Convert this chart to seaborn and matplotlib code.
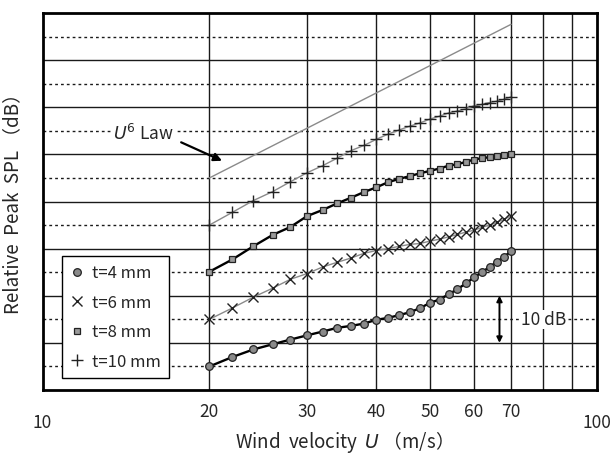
import matplotlib
matplotlib.use("Agg")
import matplotlib.pyplot as plt
from matplotlib.lines import Line2D
import seaborn as sns

# Wind velocity (m/s) at which the peak SPL was measured
velocity = [20, 22, 24, 26, 28, 30, 32, 34, 36, 38, 40, 42, 44, 46, 48,
            50, 52, 54, 56, 58, 60, 62, 64, 66, 68, 70]

# Relative peak SPL (dB) for each plate thickness
spl_t4 = [5.0, 7.0, 8.6, 9.7, 10.7, 11.6, 12.4, 13.2, 13.6, 14.1, 14.9, 15.3, 15.9,
          16.5, 17.4, 18.5, 19.2, 20.3, 21.4, 22.6, 23.9, 25.0, 26.1, 27.2, 28.3, 29.4]
spl_t6 = [15.0, 17.4, 19.7, 21.6, 23.5, 24.7, 26.1, 27.1, 28.0, 29.0, 29.6, 30.0, 30.5,
          30.9, 31.1, 31.6, 32.0, 32.5, 33.0, 33.5, 33.9, 34.5, 35.0, 35.6, 36.2, 37.0]
spl_t8 = [25.1, 27.7, 30.5, 32.9, 34.6, 36.9, 38.2, 39.6, 40.8, 42.0, 43.0, 44.1, 44.8,
          45.4, 46.0, 46.5, 47.0, 47.6, 47.9, 48.4, 48.9, 49.2, 49.4, 49.7, 49.9, 50.0]
spl_t10 = [35.0, 37.7, 40.2, 42.1, 44.2, 46.1, 47.6, 49.2, 50.8, 51.9, 53.2, 54.3, 55.2,
           56.0, 56.7, 57.5, 58.1, 58.8, 59.2, 59.7, 60.3, 60.6, 61.0, 61.3, 61.7, 62.2]

# U^6 reference line (end points)
u6_velocity = [20, 70]
u6_spl = [45.0, 77.6]

series_labels = ["t=4 mm", "t=6 mm", "t=8 mm", "t=10 mm"]
major_ticks = [20, 30, 40, 50, 60, 70]
major_labels = ["20", "30", "40", "50", "60", "70"]
edge_ticks = [10, 100]
edge_labels = ["10", "100"]

sns.set_theme(style="white")
plt.rcParams["font.family"] = ["Noto Sans CJK JP", "DejaVu Sans"]
plt.rcParams["mathtext.fontset"] = "dejavusans"

fig = plt.figure(figsize=(6.11, 4.56), dpi=100)
ax = fig.add_axes([42.5 / 611, 1 - 391 / 456, 554.5 / 611, 377 / 456])

ax.set_xscale("log")
ax.set_xlim(10, 100)
ax.set_ylim(0, 80)

# grid: solid every 10 dB, dotted at the half steps, verticals every 10 m/s
ax.set_yticks(range(10, 80, 10))
ax.set_yticks(range(5, 80, 10), minor=True)
ax.set_yticklabels([])
ax.yaxis.grid(True, which="major", color="#1a1a1a", lw=1.0, ls="-")
ax.yaxis.grid(True, which="minor", color="#1a1a1a", lw=1.0, ls=(0, (2, 2.2)))

ax.set_xticks(major_ticks, labels=major_labels)
ax.set_xticks(edge_ticks, labels=edge_labels, minor=True)
ax.xaxis.grid(True, which="major", color="#1a1a1a", lw=1.0, ls="-")
for xv in [80, 90]:
    ax.axvline(xv, color="#1a1a1a", lw=1.0, zorder=0.5)
ax.tick_params(axis="both", which="both", length=0)
ax.tick_params(axis="x", which="major", pad=9, labelsize=12.5)
ax.tick_params(axis="x", which="minor", pad=16.5, labelsize=12.5)
ax.set_axisbelow(True)

for sp in ax.spines.values():
    sp.set_color("black")
    sp.set_linewidth(2.0)

# measured curves
sns.lineplot(x=velocity, y=spl_t4, ax=ax, color="black", lw=1.7, marker="o",
             markersize=5.5, markerfacecolor="#8a8a8a", markeredgecolor="#222222",
             markeredgewidth=0.9, zorder=5)
sns.lineplot(x=velocity, y=spl_t6, ax=ax, color="#8a8a8a", lw=1.0, marker="x",
             markersize=7, markeredgecolor="#222222", markeredgewidth=1.0, zorder=5)
sns.lineplot(x=velocity, y=spl_t8, ax=ax, color="black", lw=1.7, marker="s",
             markersize=5, markerfacecolor="#9a9a9a", markeredgecolor="#222222",
             markeredgewidth=0.9, zorder=5)
sns.lineplot(x=velocity, y=spl_t10, ax=ax, color="#8a8a8a", lw=1.0, marker="+",
             markersize=9, markeredgecolor="#222222", markeredgewidth=1.0, zorder=5)
sns.lineplot(x=u6_velocity, y=u6_spl, ax=ax, color="#8a8a8a", lw=1.0, zorder=5)

# U^6 law label with arrow
ax.text(15.2, 54.6, "$U^6$ Law", ha="center", va="center", fontsize=12.5,
        bbox=dict(facecolor="white", edgecolor="none", pad=1.5), zorder=6)
ax.annotate("", xy=(21.3, 48.4), xytext=(17.6, 52.8),
            arrowprops=dict(arrowstyle="-|>", color="black", lw=1.6,
                            mutation_scale=12), zorder=6)

# 10 dB scale bar
ax.annotate("", xy=(66.7, 10), xytext=(66.7, 20),
            arrowprops=dict(arrowstyle="<|-|>", color="black", lw=1.4,
                            mutation_scale=8, shrinkA=0, shrinkB=0), zorder=6)
ax.text(80, 15, "10 dB", ha="center", va="center", fontsize=12.5,
        bbox=dict(facecolor="white", edgecolor="none", pad=0.5), zorder=6)

ax.set_xlabel("Wind  velocity  $U$ （m/s）", fontsize=13.5, va="center")
ax.xaxis.set_label_coords(0.535, -0.135)
ax.set_ylabel("Relative  Peak  SPL （dB）", fontsize=13.5)
ax.yaxis.set_label_coords(-0.035, 0.51)

handles = [
    Line2D([], [], ls="none", marker="o", markersize=5.5, markerfacecolor="#8a8a8a",
           markeredgecolor="#222222", markeredgewidth=0.9),
    Line2D([], [], ls="none", marker="x", markersize=7, markeredgecolor="#222222",
           markeredgewidth=1.0),
    Line2D([], [], ls="none", marker="s", markersize=5, markerfacecolor="#9a9a9a",
           markeredgecolor="#222222", markeredgewidth=0.9),
    Line2D([], [], ls="none", marker="+", markersize=9, markeredgecolor="#222222",
           markeredgewidth=1.0),
]
leg = ax.legend(handles, series_labels, loc="lower left", bbox_to_anchor=(0.035, 0.031),
                borderaxespad=0, fontsize=12, frameon=True, fancybox=False,
                framealpha=1, edgecolor="black", handlelength=0.8, handletextpad=0.5,
                labelspacing=0.75, borderpad=0.5)
leg.get_frame().set_linewidth(1.0)
leg.set_zorder(7)

fig.savefig("out.png", dpi=100)
